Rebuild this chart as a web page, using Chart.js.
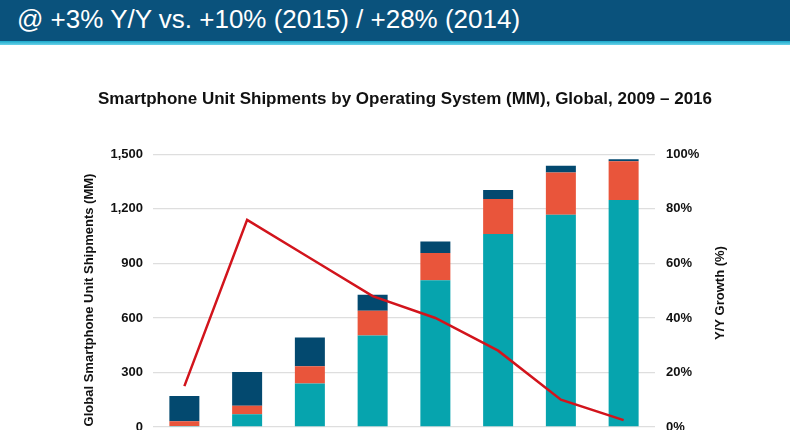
<!DOCTYPE html>
<html>
<head>
<meta charset="utf-8">
<script src="https://cdn.jsdelivr.net/npm/chart.js@4.4.0/dist/chart.umd.min.js"></script>
<style>
  html, body { margin: 0; padding: 0; background: #fff; }
  body { width: 790px; height: 430px; overflow: hidden; position: relative; font-family: "Liberation Sans", Arial, sans-serif; }
  #header { position: absolute; left: 0; top: 0; width: 790px; height: 41px; background: #0a527c; z-index: 2; }
  #stripe { position: absolute; left: 0; top: 41px; width: 790px; height: 4px; background: linear-gradient(#19a8cb, #6ad2e8); z-index: 2; }
  #headtext { position: absolute; left: 17px; top: 6px; color: #fff; font-size: 26px; line-height: 26px; white-space: nowrap; }
  #wrap { position: absolute; left: 0; top: 0; width: 790px; height: 480px; z-index: 1; }
</style>
</head>
<body>
<div id="header"><div id="headtext">@ +3% Y/Y vs. +10% (2015) / +28% (2014)</div></div>
<div id="stripe"></div>
<div id="wrap"><canvas id="c"></canvas></div>
<script>
const years = ['2009', '2010', '2011', '2012', '2013', '2014', '2015', '2016'];
const android = [5, 70, 239, 503, 807, 1062, 1168, 1249];
const ios = [26, 47, 95, 137, 150, 192, 233, 213];
const other = [140, 185, 158, 88, 64, 50, 37, 11];
const yoyGrowth = [15, 76, 62, 48, 40, 28, 10, 2.5];
const leftTicksMax = 1500;
const leftTickStep = 300;
const rightTicksMax = 100;
const rightTickStep = 20;

const FONT = '"Liberation Sans", Arial, sans-serif';

const axisTitles = {
  id: 'axisTitles',
  afterDraw(chart) {
    const ctx = chart.ctx;
    ctx.save();
    ctx.fillStyle = '#111';
    ctx.font = 'bold 13px ' + FONT;
    ctx.textAlign = 'center';
    ctx.textBaseline = 'middle';
    ctx.translate(89, 300);
    ctx.rotate(-Math.PI / 2);
    ctx.fillText('Global Smartphone Unit Shipments (MM)', 0, 0);
    ctx.restore();
    ctx.save();
    ctx.fillStyle = '#111';
    ctx.font = 'bold 13px ' + FONT;
    ctx.textAlign = 'center';
    ctx.textBaseline = 'middle';
    ctx.translate(720, 293);
    ctx.rotate(-Math.PI / 2);
    ctx.fillText('Y/Y Growth (%)', 0, 0);
    ctx.restore();
  }
};

new Chart(document.getElementById('c'), {
  data: {
    labels: years,
    datasets: [
      { type: 'line', label: 'Y/Y Growth (%)', data: yoyGrowth, yAxisID: 'y1', stack: 'line',
        borderColor: '#d2141c', borderWidth: 2.5, pointRadius: 0, tension: 0, fill: false, order: 0 },
      { type: 'bar', label: 'Android', data: android, yAxisID: 'y', backgroundColor: '#06a4ae', order: 1,
        barPercentage: 0.478, categoryPercentage: 1 },
      { type: 'bar', label: 'iOS', data: ios, yAxisID: 'y', backgroundColor: '#e9553b', order: 1,
        barPercentage: 0.478, categoryPercentage: 1 },
      { type: 'bar', label: 'Other', data: other, yAxisID: 'y', backgroundColor: '#03496f', order: 1,
        barPercentage: 0.478, categoryPercentage: 1 }
    ]
  },
  options: {
    responsive: true,
    maintainAspectRatio: false,
    animation: false,
    layout: { padding: { left: 80, right: 60, top: 0, bottom: 0 } },
    plugins: {
      legend: { display: false },
      tooltip: { enabled: false },
      title: {
        display: true,
        text: 'Smartphone Unit Shipments by Operating System (MM), Global, 2009 – 2016',
        color: '#111',
        font: { family: FONT, size: 17, weight: 'bold' },
        padding: { top: 89, bottom: 45 }
      }
    },
    scales: {
      x: {
        stacked: true,
        offset: true,
        grid: { display: false },
        border: { display: false },
        ticks: { color: '#111', font: { family: FONT, size: 13, weight: 'bold' } },
        afterFit(s) { s.height = 53; }
      },
      y: {
        position: 'left',
        stacked: true,
        min: 0, max: leftTicksMax,
        grid: { color: '#dedede', lineWidth: 1.3, drawTicks: false },
        border: { display: false },
        ticks: {
          stepSize: leftTickStep, padding: 10, color: '#111',
          font: { family: FONT, size: 13, weight: 'bold' },
          callback: v => v.toLocaleString('en-US')
        },
        afterFit(s) { s.width = 73; }
      },
      y1: {
        position: 'right',
        min: 0, max: rightTicksMax,
        grid: { display: false, drawTicks: false },
        border: { display: false },
        ticks: {
          stepSize: rightTickStep, padding: 11, color: '#111',
          font: { family: FONT, size: 13, weight: 'bold' },
          callback: v => v + '%'
        },
        afterFit(s) { s.width = 75; }
      }
    }
  },
  plugins: [axisTitles]
});
</script>
</body>
</html>
